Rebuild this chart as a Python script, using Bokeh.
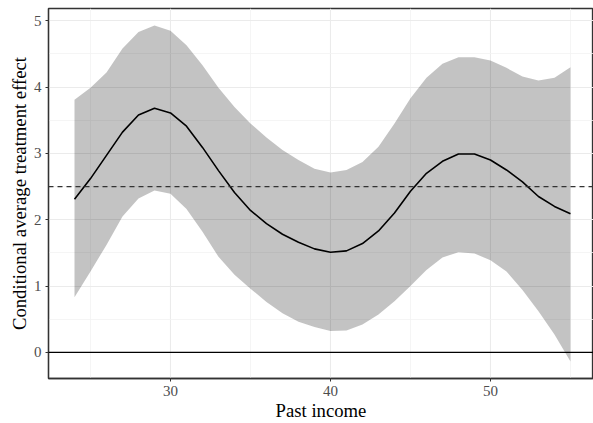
from bokeh.plotting import figure
from bokeh.models import Range1d, ColumnDataSource, Span, FixedTicker
from bokeh.embed import file_html
from bokeh.resources import INLINE

past_income = list(range(24, 56))
cate = [2.31, 2.62, 2.97, 3.32, 3.58, 3.68, 3.61, 3.41, 3.09, 2.74, 2.41, 2.14,
        1.94, 1.78, 1.66, 1.56, 1.51, 1.53, 1.64, 1.83, 2.10, 2.43, 2.70, 2.88,
        2.99, 2.99, 2.90, 2.75, 2.57, 2.35, 2.20, 2.09]
upper = [3.81, 3.99, 4.22, 4.58, 4.83, 4.93, 4.85, 4.63, 4.33, 3.99, 3.70, 3.45,
         3.24, 3.05, 2.90, 2.77, 2.71, 2.75, 2.87, 3.10, 3.45, 3.83, 4.14, 4.35,
         4.45, 4.45, 4.40, 4.29, 4.16, 4.10, 4.14, 4.30]
lower = [0.83, 1.22, 1.62, 2.05, 2.32, 2.44, 2.39, 2.16, 1.82, 1.44, 1.17, 0.96,
         0.76, 0.59, 0.46, 0.38, 0.32, 0.33, 0.42, 0.57, 0.77, 1.00, 1.24, 1.43,
         1.51, 1.49, 1.39, 1.22, 0.94, 0.62, 0.27, -0.14]
x_ticks = [30, 40, 50]
x_minor = [25, 35, 45, 55]
y_ticks = [0, 1, 2, 3, 4, 5]
y_minor = [0.5, 1.5, 2.5, 3.5, 4.5]
reference_level = 2.5

src = ColumnDataSource(dict(x=past_income, y=cate, lo=lower, hi=upper))

p = figure(width=593, height=423, output_backend="svg", toolbar_location=None,
           x_range=Range1d(22.375, 56.44), y_range=Range1d(-0.395, 5.185),
           min_border_left=48, min_border_right=0, min_border_top=8,
           min_border_bottom=43)

p.varea(x="x", y1="lo", y2="hi", source=src, fill_color="black", fill_alpha=0.235)
p.line(x="x", y="y", source=src, line_color="black", line_width=1.6)

p.add_layout(Span(location=0, dimension="width", line_color="black", line_width=1.3))
p.add_layout(Span(location=reference_level, dimension="width", line_color="#333333",
                  line_width=1.3, line_dash="5 4"))

p.xaxis.ticker = FixedTicker(ticks=x_ticks, minor_ticks=x_minor)
p.yaxis.ticker = FixedTicker(ticks=y_ticks, minor_ticks=y_minor)

for ax in (p.xaxis, p.yaxis):
    ax.axis_line_color = "#333333"
    ax.axis_line_width = 1.3
    ax.major_tick_line_color = "#333333"
    ax.major_tick_out = 3
    ax.major_tick_in = 0
    ax.minor_tick_line_color = None
    ax.major_label_text_font = "Liberation Serif"
    ax.major_label_text_font_size = "15px"
    ax.major_label_text_color = "#4D4D4D"
    ax.axis_label_text_font = "Liberation Serif"
    ax.axis_label_text_font_size = "18.7px"
    ax.axis_label_text_font_style = "normal"
    ax.axis_label_text_color = "black"

p.xaxis.axis_label = "Past income"
p.yaxis.axis_label = "Conditional average treatment effect"
p.xaxis.axis_label_standoff = 1
p.yaxis.axis_label_standoff = 1
p.xaxis.major_label_standoff = 3
p.yaxis.major_label_standoff = 3

p.xgrid.grid_line_color = "#EBEBEB"
p.ygrid.grid_line_color = "#EBEBEB"
p.xgrid.grid_line_width = 1.1
p.ygrid.grid_line_width = 1.1
p.xgrid.minor_grid_line_color = "#F2F2F2"
p.ygrid.minor_grid_line_color = "#F2F2F2"
p.xgrid.minor_grid_line_width = 0.8
p.ygrid.minor_grid_line_width = 0.8

p.outline_line_color = "#333333"
p.outline_line_width = 1.3
p.background_fill_color = "white"
p.border_fill_color = "white"

open("out.html", "w").write(file_html(p, INLINE))
